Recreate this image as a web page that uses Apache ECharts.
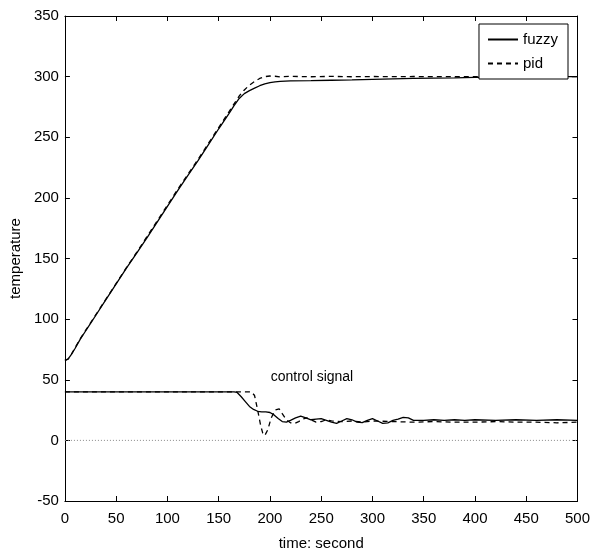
<!DOCTYPE html>
<html><head><meta charset="utf-8">
<script src="https://cdn.jsdelivr.net/npm/echarts@6/dist/echarts.min.js"></script>
<style>html,body{margin:0;padding:0;background:#fff;}#c{width:593px;height:556px;}</style>
</head><body><div id="c"></div>
<script>
// ---- data ----
const xTicks = [0,50,100,150,200,250,300,350,400,450,500];
const yTicks = [-50,0,50,100,150,200,250,300,350];

const tempTime = [0,3,6,10,15,20,25,30,40,50,60,70,80,90,100,110,120,130,140,150,160,165,170,175,180,185,190,195,200,205,210,220,240,260,280,300,320,340,360,380,400,420,440,460,480,500];
const fuzzyTemp = [66,67,70.5,76,83.5,90,96.5,103,116,129,142,154.5,167,180,193,206,218.5,231,244,257,269.5,276,282,286,288.5,290.5,292.5,294,295,295.7,296,296.5,296.7,297,297.3,297.8,298.2,298.5,298.8,299,299.3,299.5,299.7,299.8,300,300];
const pidTemp   = [66,67,70.5,76.5,84,90.5,97,103.5,116.5,129.5,142.5,155,168,181,194,207,219.5,232,245,258,271,277.5,284,289,293,296,298.5,300,300.5,300.3,299.8,300.2,299.9,300.2,299.9,300.1,300,300.1,300,300,300,300,300,300,300,300];

const fuzzyCtrlTime = [0,165,168,172,176,180,184,188,192,196,200,204,208,212,216,220,225,230,235,240,245,250,255,260,265,270,275,280,285,290,295,300,305,310,315,320,325,330,335,340,350,360,370,380,390,400,420,440,460,480,500];
const fuzzyCtrl     = [40,40,39.5,36,32,28,25.5,24,23.5,23.5,23,21,18,15.5,15,16.5,18.5,20,18.5,17,17.5,18,16.5,15,14,16,18,17,15,14.7,16.5,18,16,14,14.5,16.5,17.5,19,18.5,16.5,16.5,17,16.5,17,16.5,17,16.5,17,16.5,17,16.5];

const pidCtrlTime = [0,182,185,188,191,193,195,198,201,205,209,212,216,220,224,228,232,236,240,245,250,255,260,270,280,290,300,320,340,360,380,400,420,440,460,480,500];
const pidCtrl     = [40,40,37,25,12,6,4,9,18,25,26,22,17,14.5,14,15.5,17.5,18.5,17,15,15.5,17,16,15.5,16,15,16,15.5,15,15.5,15,15,15.5,15,15,14.5,15];

const zeroTime = [0,500];
const zeroVal  = [0,0];

const seriesNames = ['fuzzy','pid'];
const annotText = 'control signal';
const annotPos = [241, 52];

const xLabel = 'time: second';
const yLabel = 'temperature';

// ---- build ----
const zip = (a,b) => a.map((v,i) => [v,b[i]]);
const FONT = "'Liberation Sans', Arial, sans-serif";
const black = '#000';

const chart = echarts.init(document.getElementById('c'), null, {renderer:'canvas'});

const axisCommon = {
  type:'value',
  axisLine:{show:true, onZero:false, lineStyle:{color:black, width:1}},
  axisTick:{show:true, inside:true, length:5, lineStyle:{color:black}},
  splitLine:{show:false},
};

const option = {
  animation:false,
  backgroundColor:'#fff',
  textStyle:{fontFamily:FONT},
  grid:{left:58, right:15, top:16, bottom:49, containLabel:false},
  xAxis:[
    Object.assign({}, axisCommon, {
      min:xTicks[0], max:xTicks[xTicks.length-1], interval:xTicks[1]-xTicks[0], position:'bottom',
      axisLabel:{color:black, fontSize:15, margin:10, fontFamily:FONT},
      name:xLabel, nameLocation:'middle', nameGap:35,
      nameTextStyle:{color:black, fontSize:15, fontFamily:FONT}
    }),
    Object.assign({}, axisCommon, {
      min:xTicks[0], max:xTicks[xTicks.length-1], interval:xTicks[1]-xTicks[0], position:'top',
      axisLabel:{show:false}
    })
  ],
  yAxis:[
    Object.assign({}, axisCommon, {
      min:yTicks[0], max:yTicks[yTicks.length-1], interval:yTicks[1]-yTicks[0], position:'left',
      axisLabel:{color:black, fontSize:15, margin:6, fontFamily:FONT},
      name:yLabel, nameLocation:'middle', nameGap:32,
      nameTextStyle:{color:black, fontSize:15, fontFamily:FONT}
    }),
    Object.assign({}, axisCommon, {
      min:yTicks[0], max:yTicks[yTicks.length-1], interval:yTicks[1]-yTicks[0], position:'right',
      axisLabel:{show:false}
    })
  ],
  legend:{
    data:seriesNames,
    orient:'vertical',
    right:25, top:24,
    backgroundColor:'#fff',
    borderColor:black, borderWidth:1, borderRadius:0,
    padding:[8,10,8,8],
    itemWidth:30, itemHeight:12, itemGap:9,
    itemStyle:{color:'rgba(0,0,0,0)', borderWidth:0, opacity:0},
    textStyle:{color:black, fontSize:15, fontFamily:FONT}
  },
  series:[
    {name:'zero', type:'line', data:zip(zeroTime,zeroVal), symbol:'none', silent:true,
     lineStyle:{color:'#8a8a8a', width:1, type:[1,2]}},
    {name:seriesNames[0], type:'line', data:zip(tempTime,fuzzyTemp), symbol:'none',
     lineStyle:{color:black, width:1.3, type:'solid'}, itemStyle:{color:black}},
    {name:seriesNames[1], type:'line', data:zip(tempTime,pidTemp), symbol:'none',
     lineStyle:{color:black, width:1.3, type:[5,4]}, itemStyle:{color:black}},
    {name:'fuzzyCtrl', type:'line', data:zip(fuzzyCtrlTime,fuzzyCtrl), symbol:'none',
     lineStyle:{color:black, width:1.3, type:'solid'},
     markPoint:{
       symbol:'circle', symbolSize:1, itemStyle:{color:'rgba(0,0,0,0)'},
       label:{show:true, position:'inside', formatter:annotText, color:black, fontSize:14, fontFamily:FONT},
       data:[{coord:annotPos}]
     }},
    {name:'pidCtrl', type:'line', data:zip(pidCtrlTime,pidCtrl), symbol:'none',
     lineStyle:{color:black, width:1.3, type:[5,4]}}
  ]
};
chart.setOption(option);
</script>
</body></html>
